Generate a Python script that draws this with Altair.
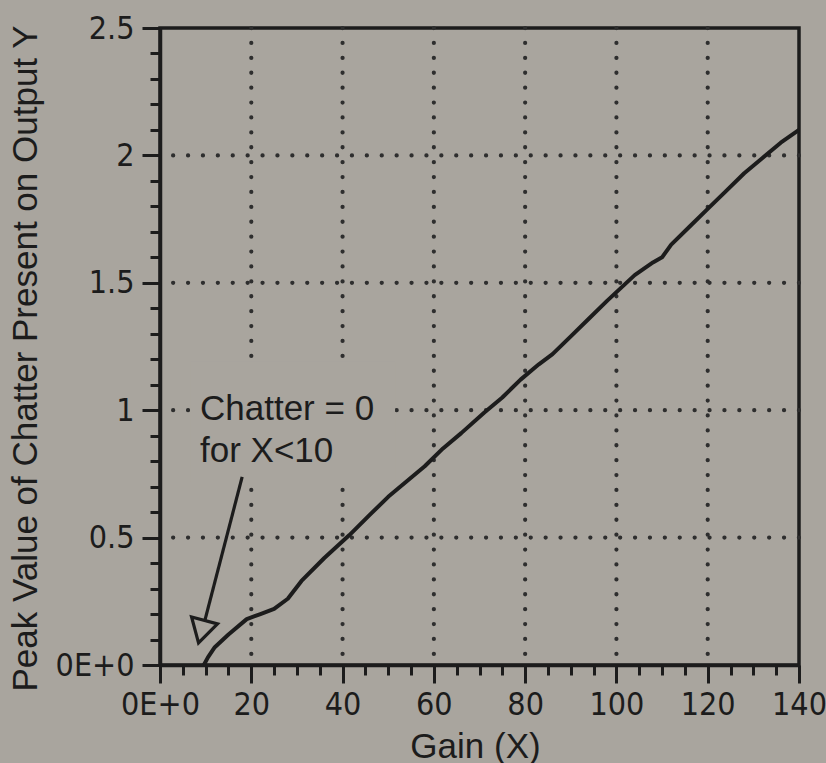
import altair as alt
import pandas as pd

# ---- data ----
gain = [9.6, 10.5, 12, 15, 19, 22, 25, 28, 31, 36, 41.5, 46, 50, 54, 58, 62, 66,
        71, 75, 79, 83, 86, 90, 94, 98, 101, 104, 108, 110, 112, 116, 120, 124,
        128, 132, 136, 140]
chatter = [0, 0.03, 0.07, 0.12, 0.18, 0.2, 0.22, 0.26, 0.33, 0.42, 0.51, 0.59,
           0.66, 0.72, 0.78, 0.85, 0.91, 0.99, 1.05, 1.12, 1.18, 1.22, 1.29,
           1.36, 1.43, 1.48, 1.53, 1.58, 1.60, 1.65, 1.72, 1.79, 1.86, 1.93,
           1.99, 2.05, 2.10]

grid_x = [20, 40, 60, 80, 100, 120]
grid_y = [0.5, 1.0, 1.5, 2.0]
x_major = [0, 20, 40, 60, 80, 100, 120, 140]
y_major = [0, 0.5, 1.0, 1.5, 2.0, 2.5]
x_minor = [v for v in range(0, 141, 5) if v % 20]
y_minor = [round(i * 0.1, 1) for i in range(26) if i % 5]

# annotation
note_lines = ["Chatter = 0", "for X<10"]
note_x = [8.76]
note_y = [0.962]
box_x, box_x2 = [6.6], [51.5]
box_y, box_y2 = [0.72], [1.19]
arrow_x = [18.0, 9.86]
arrow_y = [0.738, 0.177]
head_x = [9.1]
head_y = [0.131]

BG = "#a9a59e"
INK = "#1c1c1c"
NARROW = "'Liberation Sans Narrow', 'DejaVu Sans Condensed', 'Roboto Condensed', 'Liberation Sans', sans-serif"
SANS = "'Liberation Sans', Arial, Helvetica, sans-serif"

xs = alt.Scale(domain=[0, 140], nice=False, zero=False)
ys = alt.Scale(domain=[0, 2.5], nice=False, zero=False)

dot = dict(strokeDash=[0.1, 14.8], strokeCap="round", strokeWidth=4.2, color="#2e2e2e")

vgrid = alt.Chart(pd.DataFrame({"gx": grid_x})).mark_rule(**dot).encode(
    x=alt.X("gx:Q", scale=xs, axis=None))
hgrid = alt.Chart(pd.DataFrame({"gy": grid_y})).mark_rule(**dot).encode(
    y=alt.Y("gy:Q", scale=ys, axis=None))

box = alt.Chart(pd.DataFrame({"x": box_x, "x2": box_x2, "y": box_y, "y2": box_y2})).mark_rect(
    fill=BG, stroke=None).encode(
    x=alt.X("x:Q", scale=xs, axis=None), x2="x2:Q",
    y=alt.Y("y:Q", scale=ys, axis=None), y2="y2:Q")

note = alt.Chart(pd.DataFrame({"x": note_x, "y": note_y, "t": ["\n".join(note_lines)]})).mark_text(
    align="left", baseline="alphabetic", font=SANS, fontSize=35, color=INK,
    lineBreak="\n", lineHeight=42).encode(
    x=alt.X("x:Q", scale=xs, axis=None), y=alt.Y("y:Q", scale=ys, axis=None), text="t:N")

arrow = alt.Chart(pd.DataFrame({"x": arrow_x, "y": arrow_y, "o": [0, 1]})).mark_line(
    color=INK, strokeWidth=3.2).encode(
    x=alt.X("x:Q", scale=xs, axis=None), y=alt.Y("y:Q", scale=ys, axis=None), order="o:Q")

head = alt.Chart(pd.DataFrame({"x": head_x, "y": head_y})).mark_point(
    shape="triangle-down", angle=15, size=720, filled=False, stroke=INK, strokeWidth=3.2,
    opacity=1).encode(
    x=alt.X("x:Q", scale=xs, axis=None), y=alt.Y("y:Q", scale=ys, axis=None))

lab_expr = "datum.value == 0 ? '0E+0' : format(datum.value, '~g')"

curve = alt.Chart(pd.DataFrame({"gain": gain, "chatter": chatter})).mark_line(
    color=INK, strokeWidth=4, strokeJoin="round").encode(
    x=alt.X("gain:Q", scale=xs, title="Gain (X)",
            axis=alt.Axis(orient="bottom", values=x_major, tickSize=18, tickWidth=3,
                          domainWidth=3.5, domainColor=INK, tickColor=INK,
                          labelFont=NARROW, labelFontSize=32, labelFontWeight=500,
                          labelColor=INK,
                          labelPadding=6, labelFlush=False, labelOverlap=False,
                          labelExpr=lab_expr,
                          grid=False, titleFont=SANS, titleFontSize=35,
                          titleFontWeight="normal", titleColor=INK,
                          titleX=315, titleY=92, titleBaseline="alphabetic",
                          titleAlign="center")),
    y=alt.Y("chatter:Q", scale=ys, title="Peak Value of Chatter Present on Output Y",
            axis=alt.Axis(orient="left", values=y_major, tickSize=18, tickWidth=3,
                          domainWidth=3.5, domainColor=INK, tickColor=INK,
                          labelFont=NARROW, labelFontSize=32, labelFontWeight=500,
                          labelColor=INK,
                          labelPadding=8, labelFlush=False, labelOverlap=False,
                          labelExpr=lab_expr,
                          grid=False, titleFont=SANS, titleFontSize=35,
                          titleFontWeight="normal", titleColor=INK,
                          titleX=-124, titleY=330, titleAngle=-90,
                          titleBaseline="alphabetic", titleAlign="center")),
    order="gain:Q")

minor = alt.Chart(pd.DataFrame({"x": [0], "y": [0]})).mark_point(opacity=0).encode(
    x=alt.X("x:Q", scale=xs, title=None,
            axis=alt.Axis(orient="bottom", values=x_minor, tickSize=10, tickWidth=3,
                          tickColor=INK, domain=False, labels=False, grid=False)),
    y=alt.Y("y:Q", scale=ys, title=None,
            axis=alt.Axis(orient="left", values=y_minor, tickSize=10, tickWidth=3,
                          tickColor=INK, domain=False, labels=False, grid=False)))

chart = alt.layer(vgrid, hgrid, box, note, arrow, head, curve, minor).resolve_axis(
    x="independent", y="independent").properties(
    width=639, height=637,
    autosize=alt.AutoSizeParams(type="none"),
    padding={"left": 160, "top": 28, "right": 27, "bottom": 98},
    background=BG,
).configure_view(stroke=INK, strokeWidth=3.5)

chart.save("out.html", embed_options={"renderer": "svg", "actions": False})
